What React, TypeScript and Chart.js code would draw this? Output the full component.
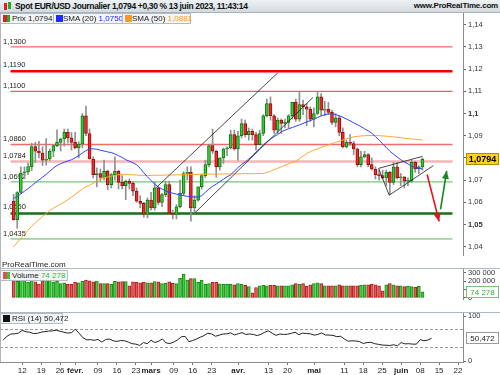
import React, { useEffect, useRef } from "react";
import { Chart, registerables } from "chart.js";

Chart.register(...registerables);

const FONT = '"Liberation Sans", Arial, sans-serif';

const TITLE = "Spot EUR/USD Journalier 1,0794 +0,30 % 13 juin 2023, 11:43:14";
const SITE = "www.ProRealTime.com";

// Daily candles, trading days 5 Jan 2023 (index 0) .. 13 Jun 2023 (index 113)
const OPEN = [
  1.0606, 1.0522, 1.0645, 1.0732, 1.0737, 1.0761, 1.0851, 1.0830, 1.0822, 1.0790,
  1.0795, 1.0830, 1.0855, 1.0870, 1.0885, 1.0915, 1.0890, 1.0870, 1.0845, 1.0862,
  1.0990, 1.0910, 1.0795, 1.0725, 1.0730, 1.0712, 1.0740, 1.0680, 1.0725, 1.0740,
  1.0690, 1.0675, 1.0695, 1.0685, 1.0650, 1.0605, 1.0595, 1.0545, 1.0610, 1.0575,
  1.0665, 1.0600, 1.0635, 1.0680, 1.0550, 1.0545, 1.0580, 1.0640, 1.0730, 1.0735,
  1.0575, 1.0610, 1.0670, 1.0720, 1.0770, 1.0855, 1.0830, 1.0760, 1.0800, 1.0840,
  1.0845, 1.0905, 1.0840, 1.0900, 1.0955, 1.0905, 1.0920, 1.0905, 1.0860, 1.0910,
  1.0990, 1.1045, 1.0990, 1.0925, 1.0970, 1.0955, 1.0960, 1.0990, 1.1050, 1.0975,
  1.1040, 1.1030, 1.1020, 1.0975, 1.1000, 1.1075, 1.1015, 1.1020, 1.1005, 1.0960,
  1.0980, 1.0915, 1.0850, 1.0870, 1.0865, 1.0840, 1.0770, 1.0805, 1.0815, 1.0770,
  1.0750, 1.0725, 1.0720, 1.0710, 1.0735, 1.0690, 1.0760, 1.0710, 1.0715, 1.0695,
  1.0695, 1.0780, 1.0750, 1.0760,
];
const HIGH = [
  1.0636, 1.0648, 1.0760, 1.0760, 1.0777, 1.0866, 1.0870, 1.0875, 1.0850, 1.0887,
  1.0840, 1.0860, 1.0927, 1.0890, 1.0930, 1.0930, 1.0915, 1.0915, 1.0873, 1.1000,
  1.1033, 1.0930, 1.0805, 1.0755, 1.0750, 1.0790, 1.0745, 1.0730, 1.0805, 1.0745,
  1.0720, 1.0700, 1.0705, 1.0695, 1.0665, 1.0630, 1.0600, 1.0620, 1.0645, 1.0690,
  1.0670, 1.0640, 1.0695, 1.0695, 1.0565, 1.0590, 1.0700, 1.0738, 1.0760, 1.0760,
  1.0630, 1.0670, 1.0728, 1.0790, 1.0860, 1.0930, 1.0835, 1.0800, 1.0845, 1.0850,
  1.0925, 1.0925, 1.0920, 1.0975, 1.0970, 1.0935, 1.0930, 1.0915, 1.0925, 1.0995,
  1.1065, 1.1075, 1.0995, 1.0980, 1.0975, 1.0975, 1.0995, 1.1050, 1.1065, 1.1095,
  1.1060, 1.1045, 1.1030, 1.1025, 1.1095, 1.1090, 1.1055, 1.1050, 1.1015, 1.1000,
  1.0990, 1.0935, 1.0880, 1.0905, 1.0875, 1.0845, 1.0830, 1.0830, 1.0820, 1.0800,
  1.0760, 1.0745, 1.0745, 1.0745, 1.0740, 1.0780, 1.0780, 1.0730, 1.0715, 1.0710,
  1.0790, 1.0785, 1.0765, 1.0800,
];
const LOW = [
  1.0520, 1.0483, 1.0640, 1.0712, 1.0724, 1.0743, 1.0780, 1.0800, 1.0766, 1.0767,
  1.0788, 1.0805, 1.0850, 1.0831, 1.0853, 1.0867, 1.0835, 1.0840, 1.0800, 1.0845,
  1.0900, 1.0795, 1.0710, 1.0670, 1.0695, 1.0700, 1.0656, 1.0665, 1.0700, 1.0660,
  1.0660, 1.0612, 1.0660, 1.0630, 1.0600, 1.0576, 1.0533, 1.0530, 1.0565, 1.0565,
  1.0590, 1.0580, 1.0625, 1.0550, 1.0525, 1.0525, 1.0575, 1.0630, 1.0700, 1.0515,
  1.0550, 1.0605, 1.0660, 1.0712, 1.0760, 1.0820, 1.0713, 1.0745, 1.0775, 1.0810,
  1.0840, 1.0835, 1.0790, 1.0890, 1.0895, 1.0880, 1.0880, 1.0835, 1.0860, 1.0900,
  1.0985, 1.0970, 1.0910, 1.0910, 1.0910, 1.0935, 1.0935, 1.0975, 1.0965, 1.0965,
  1.0995, 1.0945, 1.0965, 1.0940, 1.0995, 1.0990, 1.0990, 1.0995, 1.0950, 1.0940,
  1.0900, 1.0845, 1.0845, 1.0855, 1.0815, 1.0760, 1.0760, 1.0800, 1.0760, 1.0745,
  1.0705, 1.0700, 1.0705, 1.0675, 1.0635, 1.0680, 1.0705, 1.0675, 1.0665, 1.0675,
  1.0690, 1.0735, 1.0730, 1.0745,
];
const CLOSE = [
  1.0522, 1.0644, 1.0732, 1.0737, 1.0761, 1.0851, 1.0830, 1.0822, 1.0790, 1.0795,
  1.0830, 1.0855, 1.0870, 1.0885, 1.0915, 1.0890, 1.0870, 1.0845, 1.0862, 1.0990,
  1.0910, 1.0795, 1.0725, 1.0730, 1.0712, 1.0740, 1.0680, 1.0725, 1.0740, 1.0690,
  1.0675, 1.0695, 1.0685, 1.0650, 1.0605, 1.0595, 1.0545, 1.0610, 1.0575, 1.0665,
  1.0600, 1.0635, 1.0680, 1.0550, 1.0545, 1.0580, 1.0640, 1.0730, 1.0735, 1.0575,
  1.0610, 1.0670, 1.0720, 1.0770, 1.0855, 1.0830, 1.0760, 1.0800, 1.0840, 1.0845,
  1.0905, 1.0840, 1.0900, 1.0955, 1.0905, 1.0920, 1.0905, 1.0860, 1.0910, 1.0990,
  1.1045, 1.0990, 1.0925, 1.0970, 1.0955, 1.0960, 1.0990, 1.1050, 1.0975, 1.1040,
  1.1030, 1.1020, 1.0975, 1.1000, 1.1075, 1.1015, 1.1020, 1.1005, 1.0960, 1.0980,
  1.0915, 1.0850, 1.0870, 1.0865, 1.0840, 1.0770, 1.0805, 1.0815, 1.0770, 1.0750,
  1.0725, 1.0720, 1.0710, 1.0735, 1.0690, 1.0760, 1.0710, 1.0715, 1.0695, 1.0695,
  1.0780, 1.0750, 1.0760, 1.0794,
];
const VOLUME = [
  208000, 200000, 222000, 208000, 186000, 222000, 192000, 164000, 208000, 242000,
  214000, 192000, 200000, 172000, 181000, 164000, 164000, 186000, 181000, 200000,
  214000, 205000, 192000, 203000, 172000, 172000, 172000, 164000, 200000, 192000,
  197000, 197000, 145000, 192000, 186000, 181000, 186000, 181000, 181000, 197000,
  192000, 172000, 175000, 192000, 175000, 172000, 236000, 283000, 214000, 233000,
  233000, 186000, 214000, 164000, 172000, 186000, 186000, 169000, 164000, 164000,
  164000, 158000, 172000, 164000, 150000, 136000, 61000, 125000, 144000, 150000,
  144000, 150000, 150000, 144000, 144000, 144000, 144000, 158000, 172000, 164000,
  172000, 139000, 158000, 172000, 181000, 172000, 144000, 144000, 144000, 144000,
  158000, 144000, 144000, 144000, 144000, 144000, 150000, 158000, 158000, 164000,
  158000, 144000, 86000, 158000, 172000, 158000, 144000, 144000, 136000, 139000,
  136000, 131000, 139000, 74278,
];
const SMA20 = [
  1.0618, 1.0626, 1.0638, 1.0650, 1.0662, 1.0675, 1.0688, 1.0701, 1.0713, 1.0726,
  1.0740, 1.0754, 1.0766, 1.0774, 1.0780, 1.0786, 1.0792, 1.0800, 1.0810, 1.0822,
  1.0833, 1.0840, 1.0841, 1.0839, 1.0835, 1.0831, 1.0827, 1.0824, 1.0818, 1.0810,
  1.0802, 1.0792, 1.0785, 1.0778, 1.0769, 1.0753, 1.0733, 1.0715, 1.0698, 1.0682,
  1.0669, 1.0660, 1.0652, 1.0645, 1.0641, 1.0637, 1.0633, 1.0630, 1.0627, 1.0625,
  1.0624, 1.0624, 1.0630, 1.0645, 1.0660, 1.0672, 1.0682, 1.0693, 1.0704, 1.0715,
  1.0724, 1.0740, 1.0756, 1.0770, 1.0781, 1.0795, 1.0810, 1.0826, 1.0842, 1.0858,
  1.0873, 1.0885, 1.0896, 1.0905, 1.0918, 1.0925, 1.0931, 1.0937, 1.0943, 1.0949,
  1.0955, 1.0962, 1.0968, 1.0975, 1.0982, 1.0989, 1.0995, 1.0998, 1.0999, 1.0995,
  1.0990, 1.0983, 1.0975, 1.0967, 1.0958, 1.0950, 1.0941, 1.0931, 1.0922, 1.0911,
  1.0897, 1.0880, 1.0864, 1.0847, 1.0830, 1.0817, 1.0804, 1.0792, 1.0782, 1.0773,
  1.0763, 1.0757, 1.0753, 1.0750,
];
const SMA50 = [
  1.0400, 1.0418, 1.0437, 1.0455, 1.0475, 1.0492, 1.0507, 1.0522, 1.0537, 1.0549,
  1.0563, 1.0573, 1.0583, 1.0592, 1.0601, 1.0612, 1.0623, 1.0635, 1.0648, 1.0660,
  1.0670, 1.0677, 1.0686, 1.0697, 1.0705, 1.0710, 1.0714, 1.0718, 1.0722, 1.0724,
  1.0726, 1.0726, 1.0725, 1.0724, 1.0723, 1.0722, 1.0721, 1.0721, 1.0721, 1.0722,
  1.0722, 1.0722, 1.0723, 1.0723, 1.0723, 1.0724, 1.0724, 1.0724, 1.0725, 1.0725,
  1.0725, 1.0726, 1.0726, 1.0727, 1.0727, 1.0727, 1.0727, 1.0727, 1.0728, 1.0728,
  1.0728, 1.0728, 1.0728, 1.0729, 1.0729, 1.0729, 1.0729, 1.0729, 1.0730, 1.0730,
  1.0734, 1.0740, 1.0747, 1.0753, 1.0760, 1.0767, 1.0773, 1.0779, 1.0784, 1.0796,
  1.0808, 1.0820, 1.0828, 1.0835, 1.0841, 1.0847, 1.0853, 1.0859, 1.0864, 1.0870,
  1.0875, 1.0881, 1.0886, 1.0891, 1.0895, 1.0897, 1.0899, 1.0900, 1.0901, 1.0901,
  1.0901, 1.0900, 1.0899, 1.0898, 1.0896, 1.0895, 1.0893, 1.0891, 1.0889, 1.0887,
  1.0885, 1.0884, 1.0882, 1.0881,
];
const RSI = [
  47, 55, 60, 60.5, 62, 68, 65, 64, 61, 61.5,
  64, 65.5, 66.5, 67, 68.5, 66, 64, 62, 63, 70.5,
  62, 52, 47, 47.5, 46, 48, 42, 47.5, 49, 45,
  43.5, 45.5, 45, 42, 38.5, 37.5, 34.5, 41, 38.5, 46,
  41, 44, 49, 40, 39, 42, 47, 54, 54.5, 43,
  45.5, 49, 53, 56.5, 62, 60, 55, 57.5, 60, 60.5,
  62.5, 58, 60.5, 63, 59, 60, 59, 56.5, 59.5, 64,
  67, 61.5, 57, 60, 59, 59.5, 61.5, 64, 58.5, 62,
  61, 60.5, 57.5, 59, 62.5, 58, 57.5, 57, 54, 55,
  49, 44, 45, 44.5, 43, 39, 41, 41.5, 38.5, 37,
  35.5, 35, 34.5, 36, 34, 41, 38, 38.5, 37.5, 37.5,
  47.5, 45, 46.5, 50.472,
];

const X_MIN = -0.85;
const X_MAX = 121.3;
const X_TICK_IDX = [5, 10, 15, 19, 25, 30, 35, 39, 45, 50, 55, 62, 70, 75, 82, 90, 95, 100, 105, 110, 115, 120];
const X_TICK_LABELS = ["12", "19", "26", "févr.", "09", "16", "23", "mars", "09", "16", "23", "avr.", "13", "20", "mai", "11", "18", "25", "juin", "08", "15", "22"];
const X_TICK_BOLD = ["févr.", "mars", "avr.", "mai", "juin"];

const PRICE_TICKS = [1.04, 1.05, 1.06, 1.07, 1.08, 1.09, 1.1, 1.11, 1.12, 1.13, 1.14];
const PRICE_TICK_LABELS = ["1,04", "1,05", "1,06", "1,07", "1,08", "1,09", "1,1", "1,11", "1,12", "1,13", "1,14"];
const PRICE_TICK_BOLD = [1.05, 1.1];

const VOL_TICKS = [0, 100000, 200000, 300000];
const VOL_TICK_LABELS = ["0", "100 000", "200 000", "300 000"];
const RSI_TICKS = [0, 100];
const RSI_TICK_LABELS = ["0", "100"];
const RSI_LEVELS = [70, 30];

const LEVELS = [1.13, 1.119, 1.11, 1.086, 1.0784, 1.0692, 1.055, 1.0435];
const LEVEL_LABELS = ["1,1300", "1,1190", "1,1100", "1,0860", "1,0784", "1,0692", "1,0550", "1,0435"];
const LEVEL_COLORS = ["#ff4040", "#f40000", "#ff3030", "#f26c6c", "#f7b4b4", "#55b855", "#137016", "#55b855"];
const LEVEL_WIDTHS = [1, 2.5, 1, 1.5, 2.5, 1, 2.5, 1];

// trend lines as [index, price] pairs
const TRENDLINES = [
  [[39.4, 1.0666], [73.0, 1.1183]],
  [[50.0, 1.0551], [82.7, 1.1072]],
  [[100.9, 1.0753], [113.0, 1.0807]],
  [[103.8, 1.0632], [116.0, 1.0765]],
  [[100.9, 1.0753], [103.8, 1.0632]],
];
const ARROWS = [
  { from: [114.3, 1.0725], to: [117.6, 1.0514], color: "#e8141c" },
  { from: [118.0, 1.0568], to: [119.7, 1.0742], color: "#17861c" },
];

const fmt4 = (v: number) => v.toFixed(4).replace(".", ",");
const fmtVol = (v: number) => String(Math.round(v)).replace(/\B(?=(\d{3})+(?!\d))/g, " ");
const near = (a: number, b: number) => Math.abs(a - b) < 1e-9;

function xScale(show: boolean): any {
  return {
    type: "linear",
    min: X_MIN,
    max: X_MAX,
    display: show,
    afterBuildTicks: (s: any) => {
      s.ticks = X_TICK_IDX.map((v) => ({ value: v }));
    },
    afterFit: (s: any) => {
      s.height = 13;
      s.paddingLeft = 0;
      s.paddingRight = 0;
    },
    ticks: {
      autoSkip: false,
      maxRotation: 0,
      minRotation: 0,
      padding: 1,
      color: "#222",
      font: (c: any) => {
        const i = c.tick ? X_TICK_IDX.indexOf(c.tick.value) : -1;
        const bold = i >= 0 && X_TICK_BOLD.includes(X_TICK_LABELS[i]);
        return { family: FONT, size: 8, weight: bold ? "bold" : "normal" };
      },
      callback: (v: number) => {
        const i = X_TICK_IDX.indexOf(v);
        return i >= 0 ? X_TICK_LABELS[i] : "";
      },
    },
    grid: { drawOnChartArea: false, drawTicks: true, tickLength: 3, color: "#777" },
    border: { display: true, color: "#8a8a8a" },
  };
}

function yScale(min: number, max: number, ticks: number[], labels: string[], bold: number[] = []): any {
  return {
    type: "linear",
    position: "right",
    min,
    max,
    afterBuildTicks: (s: any) => {
      s.ticks = ticks.map((v) => ({ value: v }));
    },
    afterFit: (s: any) => {
      s.width = 37;
      s.paddingTop = 0;
      s.paddingBottom = 0;
    },
    ticks: {
      autoSkip: false,
      padding: 2,
      color: "#333",
      font: (c: any) => ({
        family: FONT,
        size: 7.5,
        weight: c.tick && bold.some((b) => near(b, c.tick.value)) ? "bold" : "normal",
      }),
      callback: (v: number) => {
        const i = ticks.findIndex((t) => near(t, v));
        return i >= 0 ? labels[i] : "";
      },
    },
    grid: { drawOnChartArea: false, drawTicks: true, tickLength: 3, color: "#666" },
    border: { display: true, color: "#8a8a8a" },
  };
}

function baseOptions(scales: any): any {
  return {
    responsive: false,
    maintainAspectRatio: false,
    animation: false,
    devicePixelRatio: 1,
    events: [],
    layout: { padding: 0 },
    plugins: { legend: { display: false }, tooltip: { enabled: false }, title: { display: false } },
    scales,
  };
}

function valueBox(id: string, value: number, text: string, bg: string, border: string, color: string, font: string) {
  return {
    id,
    afterDraw(chart: any) {
      const { ctx, chartArea, scales } = chart;
      const py = Math.round(scales.y.getPixelForValue(value));
      const x0 = chartArea.right + 3.5;
      ctx.save();
      ctx.fillStyle = bg;
      ctx.fillRect(x0, py - 5.5, 32, 11);
      ctx.strokeStyle = border;
      ctx.lineWidth = 1;
      ctx.strokeRect(x0, py - 5.5, 32, 11);
      ctx.fillStyle = color;
      ctx.font = font;
      ctx.textBaseline = "middle";
      ctx.textAlign = "center";
      ctx.fillText(text, x0 + 16, py + 0.5);
      ctx.restore();
    },
  };
}

const levelLabelPlugin = {
  id: "levelLabels",
  beforeDatasetsDraw(chart: any) {
    const { ctx, chartArea, scales } = chart;
    ctx.save();
    ctx.font = `7.5px ${FONT}`;
    ctx.fillStyle = "#222";
    ctx.textBaseline = "bottom";
    ctx.textAlign = "left";
    LEVELS.forEach((v, k) => {
      const py = scales.y.getPixelForValue(v);
      ctx.fillText(LEVEL_LABELS[k], chartArea.left + 3, py - LEVEL_WIDTHS[k] / 2 - 1);
    });
    ctx.restore();
  },
};

const arrowHeadPlugin = {
  id: "arrowHeads",
  afterDatasetsDraw(chart: any) {
    const { ctx, scales } = chart;
    ctx.save();
    ARROWS.forEach((a) => {
      const x1 = scales.x.getPixelForValue(a.from[0]);
      const y1 = scales.y.getPixelForValue(a.from[1]);
      const x2 = scales.x.getPixelForValue(a.to[0]);
      const y2 = scales.y.getPixelForValue(a.to[1]);
      const ang = Math.atan2(y2 - y1, x2 - x1);
      const len = 8;
      const half = 3.5;
      const bx = x2 - Math.cos(ang) * len;
      const by = y2 - Math.sin(ang) * len;
      ctx.fillStyle = a.color;
      ctx.beginPath();
      ctx.moveTo(x2, y2);
      ctx.lineTo(bx + Math.sin(ang) * half, by - Math.cos(ang) * half);
      ctx.lineTo(bx - Math.sin(ang) * half, by + Math.cos(ang) * half);
      ctx.closePath();
      ctx.fill();
    });
    ctx.restore();
  },
};

function Square({ left, top, colors }: { left: number; top: number; colors: string[] }) {
  return (
    <div style={{ position: "absolute", left, top, width: 7, height: 7, display: "flex" }}>
      {colors.map((c, i) => (
        <div key={i} style={{ flex: 1, background: c }} />
      ))}
    </div>
  );
}

const boxStyle = (left: number, top: number, width: number): React.CSSProperties => ({
  position: "absolute",
  left,
  top,
  width,
  height: 11,
  boxSizing: "border-box",
  border: "1px solid #b3bcc4",
  background: "#f2f4f6",
  fontSize: 8,
  lineHeight: "9px",
  whiteSpace: "nowrap",
  color: "#222",
});

export default function App() {
  const priceRef = useRef<HTMLCanvasElement>(null);
  const volRef = useRef<HTMLCanvasElement>(null);
  const rsiRef = useRef<HTMLCanvasElement>(null);

  useEffect(() => {
    const idx = CLOSE.map((_, i) => i);
    const up = (i: number) => CLOSE[i] >= OPEN[i];
    const last = CLOSE.length - 1;

    const priceSets: any[] = [];
    TRENDLINES.forEach((t) =>
      priceSets.push({
        type: "line",
        data: t.map((p) => ({ x: p[0], y: p[1] })),
        borderColor: "#1a1a1a",
        borderWidth: 0.8,
        pointRadius: 0,
        order: 0,
      })
    );
    ARROWS.forEach((a) =>
      priceSets.push({
        type: "line",
        data: [
          { x: a.from[0], y: a.from[1] },
          { x: a.to[0], y: a.to[1] },
        ],
        borderColor: a.color,
        borderWidth: 1.6,
        pointRadius: 0,
        order: 0,
      })
    );
    priceSets.push({
      type: "line",
      data: idx.map((i) => ({ x: i, y: SMA20[i] })),
      borderColor: "#3040ff",
      borderWidth: 1,
      pointRadius: 0,
      order: 2,
    });
    priceSets.push({
      type: "line",
      data: idx.map((i) => ({ x: i, y: SMA50[i] })),
      borderColor: "#ffa530",
      borderWidth: 1,
      pointRadius: 0,
      order: 2,
    });
    priceSets.push({
      type: "bar",
      data: idx.map((i) => ({ x: i, y: [OPEN[i], CLOSE[i]] })),
      backgroundColor: idx.map((i) => (up(i) ? "#3cc83c" : "#f22a2a")),
      borderColor: idx.map((i) => (up(i) ? "#0e7a12" : "#9c0d0d")),
      borderWidth: 1,
      borderSkipped: false,
      barThickness: 3,
      minBarLength: 1,
      grouped: false,
      order: 10,
    });
    priceSets.push({
      type: "bar",
      data: idx.map((i) => ({ x: i, y: [LOW[i], HIGH[i]] })),
      backgroundColor: "#909090",
      borderWidth: 0,
      barThickness: 1,
      grouped: false,
      order: 11,
    });
    LEVELS.forEach((v, k) =>
      priceSets.push({
        type: "line",
        data: [
          { x: X_MIN, y: v },
          { x: X_MAX, y: v },
        ],
        borderColor: LEVEL_COLORS[k],
        borderWidth: LEVEL_WIDTHS[k],
        pointRadius: 0,
        order: 20,
      })
    );

    const priceChart = new Chart(priceRef.current as HTMLCanvasElement, {
      type: "bar",
      data: { datasets: priceSets },
      options: baseOptions({
        x: xScale(false),
        y: yScale(1.03628, 1.14526, PRICE_TICKS, PRICE_TICK_LABELS, PRICE_TICK_BOLD),
      }),
      plugins: [
        levelLabelPlugin,
        arrowHeadPlugin,
        valueBox("lastPrice", CLOSE[last], fmt4(CLOSE[last]), "#ffd21a", "#b08a00", "#000", `bold 9px ${FONT}`),
      ],
    } as any);

    const volChart = new Chart(volRef.current as HTMLCanvasElement, {
      type: "bar",
      data: {
        datasets: [
          {
            data: idx.map((i) => ({ x: i, y: VOLUME[i] })),
            backgroundColor: idx.map((i) => (up(i) ? "#44cc44" : "#e65a5a")),
            borderColor: idx.map((i) => (up(i) ? "#139013" : "#b01e1e")),
            borderWidth: 1,
            borderSkipped: false,
            barThickness: 3,
            grouped: false,
          },
        ],
      },
      options: baseOptions({
        x: xScale(false),
        y: yScale(-12700, 359000, VOL_TICKS, VOL_TICK_LABELS),
      }),
      plugins: [valueBox("lastVol", VOLUME[last], fmtVol(VOLUME[last]), "#ffffff", "#7cc07c", "#2fb52f", `8px ${FONT}`)],
    } as any);

    const rsiSets: any[] = [
      {
        type: "line",
        data: idx.map((i) => ({ x: i, y: RSI[i] })),
        borderColor: "#222",
        borderWidth: 1,
        pointRadius: 0,
        order: 0,
      },
    ];
    RSI_LEVELS.forEach((v) =>
      rsiSets.push({
        type: "line",
        data: [
          { x: X_MIN, y: v },
          { x: X_MAX, y: v },
        ],
        borderColor: "#9a9a9a",
        borderWidth: 1,
        borderDash: [3, 2],
        pointRadius: 0,
        order: 5,
      })
    );
    const rsiChart = new Chart(rsiRef.current as HTMLCanvasElement, {
      type: "line",
      data: { datasets: rsiSets },
      options: baseOptions({
        x: xScale(true),
        y: yScale(-2.2, 108.9, RSI_TICKS, RSI_TICK_LABELS),
      }),
      plugins: [
        valueBox("lastRsi", RSI[last], RSI[last].toFixed(3).replace(".", ","), "#ffffff", "#9a9a9a", "#222", `8px ${FONT}`),
      ],
    } as any);

    return () => {
      priceChart.destroy();
      volChart.destroy();
      rsiChart.destroy();
    };
  }, []);

  const last = CLOSE.length - 1;

  return (
    <div
      style={{
        position: "absolute",
        left: 0,
        top: 0,
        width: 500,
        height: 375,
        background: "#fff",
        overflow: "hidden",
        fontFamily: FONT,
      }}
    >
      <canvas ref={priceRef} width={500} height={255} style={{ position: "absolute", left: 0, top: 13, width: 500, height: 255 }} />
      <canvas ref={volRef} width={500} height={44} style={{ position: "absolute", left: 0, top: 268, width: 500, height: 44 }} />
      <canvas ref={rsiRef} width={500} height={63} style={{ position: "absolute", left: 0, top: 312, width: 500, height: 63 }} />

      {/* header */}
      <div
        style={{
          position: "absolute",
          left: 0,
          top: 0,
          width: 500,
          height: 13,
          boxSizing: "border-box",
          background: "linear-gradient(#eef2f5, #d2dae0)",
          borderBottom: "1px solid #a7b2bb",
        }}
      >
        <div style={{ position: "absolute", left: 4, top: 3, width: 3, height: 7, background: "#e02020" }} />
        <div style={{ position: "absolute", left: 8, top: 2, width: 3, height: 7, background: "#22b022" }} />
        <span
          style={{
            position: "absolute",
            left: 15,
            top: 0,
            lineHeight: "12px",
            fontSize: 8.5,
            fontWeight: "bold",
            letterSpacing: -0.35,
            color: "#111",
            whiteSpace: "nowrap",
          }}
        >
          {TITLE}
        </span>
        <span
          style={{
            position: "absolute",
            right: 2,
            top: 0,
            lineHeight: "12px",
            fontSize: 8,
            fontWeight: "bold",
            letterSpacing: -0.2,
            color: "#111",
            whiteSpace: "nowrap",
          }}
        >
          {SITE}
        </span>
      </div>

      {/* price legend */}
      <div style={boxStyle(0, 13, 54)}>
        <Square left={2} top={1} colors={["#e02020", "#22b022"]} />
        <span style={{ position: "absolute", left: 11 }}>Prix {fmt4(CLOSE[last])}</span>
      </div>
      <div style={boxStyle(53, 13, 70)}>
        <Square left={2} top={1} colors={["#1f2cff"]} />
        <span style={{ position: "absolute", left: 9 }}>
          SMA (20) <span style={{ color: "#2030ff" }}>{fmt4(SMA20[last])}</span>
        </span>
      </div>
      <div style={boxStyle(122, 13, 69)}>
        <Square left={2} top={1} colors={["#ff9a1a"]} />
        <span style={{ position: "absolute", left: 9 }}>
          SMA (50) <span style={{ color: "#ff9a1a" }}>{fmt4(SMA50[last])}</span>
        </span>
      </div>

      <div style={{ position: "absolute", left: 2, top: 260, fontSize: 8, lineHeight: "9px", color: "#222" }}>ProRealTime.com</div>

      {/* separators */}
      <div style={{ position: "absolute", left: 0, top: 268, width: 500, height: 1, background: "#b0b8bf" }} />
      <div style={{ position: "absolute", left: 0, top: 312, width: 500, height: 1, background: "#b0b8bf" }} />
      <div style={{ position: "absolute", left: 0, top: 13, width: 1, height: 349, background: "#b0b8bf" }} />

      {/* volume legend */}
      <div style={boxStyle(0, 270, 68)}>
        <Square left={2} top={1} colors={["#e05050", "#3cc83c"]} />
        <span style={{ position: "absolute", left: 11 }}>
          Volume <span style={{ color: "#3cb83c" }}>{fmtVol(VOLUME[last])}</span>
        </span>
      </div>

      {/* rsi legend */}
      <div style={boxStyle(0, 313, 63)}>
        <Square left={2} top={1} colors={["#111"]} />
        <span style={{ position: "absolute", left: 11 }}>RSI (14) {RSI[last].toFixed(3).replace(".", ",")}</span>
      </div>
    </div>
  );
}
